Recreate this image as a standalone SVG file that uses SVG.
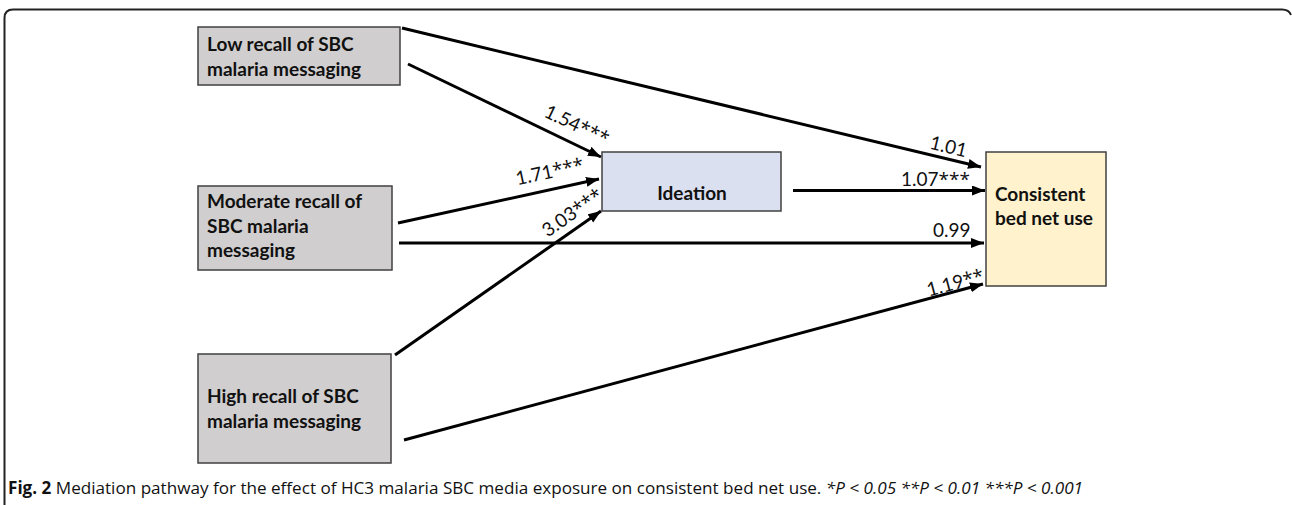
<svg xmlns="http://www.w3.org/2000/svg" width="1292" height="505" viewBox="0 0 1292 505">
<style>
.box{stroke:#404040;stroke-width:1.5}
.grey{fill:#d0cece}
.blue{fill:#dae0ef}
.yel{fill:#fff2cc}
.nt{font-family:Lato,"Open Sans",sans-serif;font-weight:bold;font-size:19px;fill:#111}
.lbl{font-family:Lato,"Open Sans",sans-serif;font-size:19px;fill:#111}
.ast{font-family:"Open Sans",sans-serif;font-size:19px}
.conn line{stroke:#000;stroke-width:3;marker-end:url(#ah)}
.cap{font-family:"Open Sans","Liberation Sans",sans-serif;font-size:17px;fill:#111}
</style>
<defs>
<marker id="ah" markerUnits="userSpaceOnUse" markerWidth="14" markerHeight="12" refX="13" refY="5" orient="auto">
<path d="M0,0 L13,5 L0,10 z" fill="#000"/>
</marker>
</defs>
<rect width="1292" height="505" fill="#fff"/>
<path d="M4.5,505 V18 Q4.5,9.5 13,9.5 H1282 Q1289,9.5 1291,15" fill="none" stroke="#222" stroke-width="2"/>

<g id="low">
<rect class="box grey" x="198" y="27" width="202" height="58"/>
<text class="nt" x="207" y="51">Low recall of SBC</text>
<text class="nt" x="207" y="76">malaria messaging</text>
</g>
<g id="moderate">
<rect class="box grey" x="198" y="186" width="194" height="84"/>
<text class="nt" x="207" y="208">Moderate recall of</text>
<text class="nt" x="207" y="233">SBC malaria</text>
<text class="nt" x="207" y="257">messaging</text>
</g>
<g id="high">
<rect class="box grey" x="198" y="354" width="193" height="109"/>
<text class="nt" x="207" y="403">High recall of SBC</text>
<text class="nt" x="207" y="428">malaria messaging</text>
</g>
<g id="ideation">
<rect class="box blue" x="602" y="152" width="179" height="59"/>
<text class="nt" x="692" y="200" text-anchor="middle">Ideation</text>
</g>
<g id="consistent">
<rect class="box yel" x="986" y="152" width="120" height="134"/>
<text class="nt" x="995" y="201">Consistent</text>
<text class="nt" x="995" y="225">bed net use</text>
</g>

<g id="connectors" class="conn">
<line x1="402" y1="28" x2="981" y2="167"/>
<line x1="408" y1="64" x2="601" y2="157"/>
<line x1="398" y1="223" x2="599" y2="179"/>
<line x1="399" y1="243" x2="984" y2="243"/>
<line x1="395" y1="355" x2="601" y2="211"/>
<line x1="793" y1="190.5" x2="985" y2="190.5"/>
<line x1="404" y1="440" x2="983" y2="284"/>
</g>

<g id="labels">
<text class="lbl" text-anchor="middle" transform="translate(574,131) rotate(25.5)">1.54<tspan class="ast">***</tspan></text>
<text class="lbl" text-anchor="middle" transform="translate(551,178) rotate(-12)">1.71<tspan class="ast">***</tspan></text>
<text class="lbl" text-anchor="middle" transform="translate(576,218) rotate(-35)">3.03<tspan class="ast">***</tspan></text>
<text class="lbl" text-anchor="middle" transform="translate(947,153) rotate(13.5)">1.01</text>
<text class="lbl" x="901" y="186">1.07<tspan class="ast">***</tspan></text>
<text class="lbl" x="933" y="237">0.99</text>
<text class="lbl" text-anchor="middle" transform="translate(957,289) rotate(-15)">1.19<tspan class="ast">**</tspan></text>
</g>

<text class="cap" x="8" y="494" textLength="1075" lengthAdjust="spacingAndGlyphs"><tspan font-weight="bold">Fig. 2</tspan> Mediation pathway for the effect of HC3 malaria SBC media exposure on consistent bed net use. <tspan font-style="italic">*P &lt; 0.05 **P &lt; 0.01 ***P &lt; 0.001</tspan></text>
</svg>
